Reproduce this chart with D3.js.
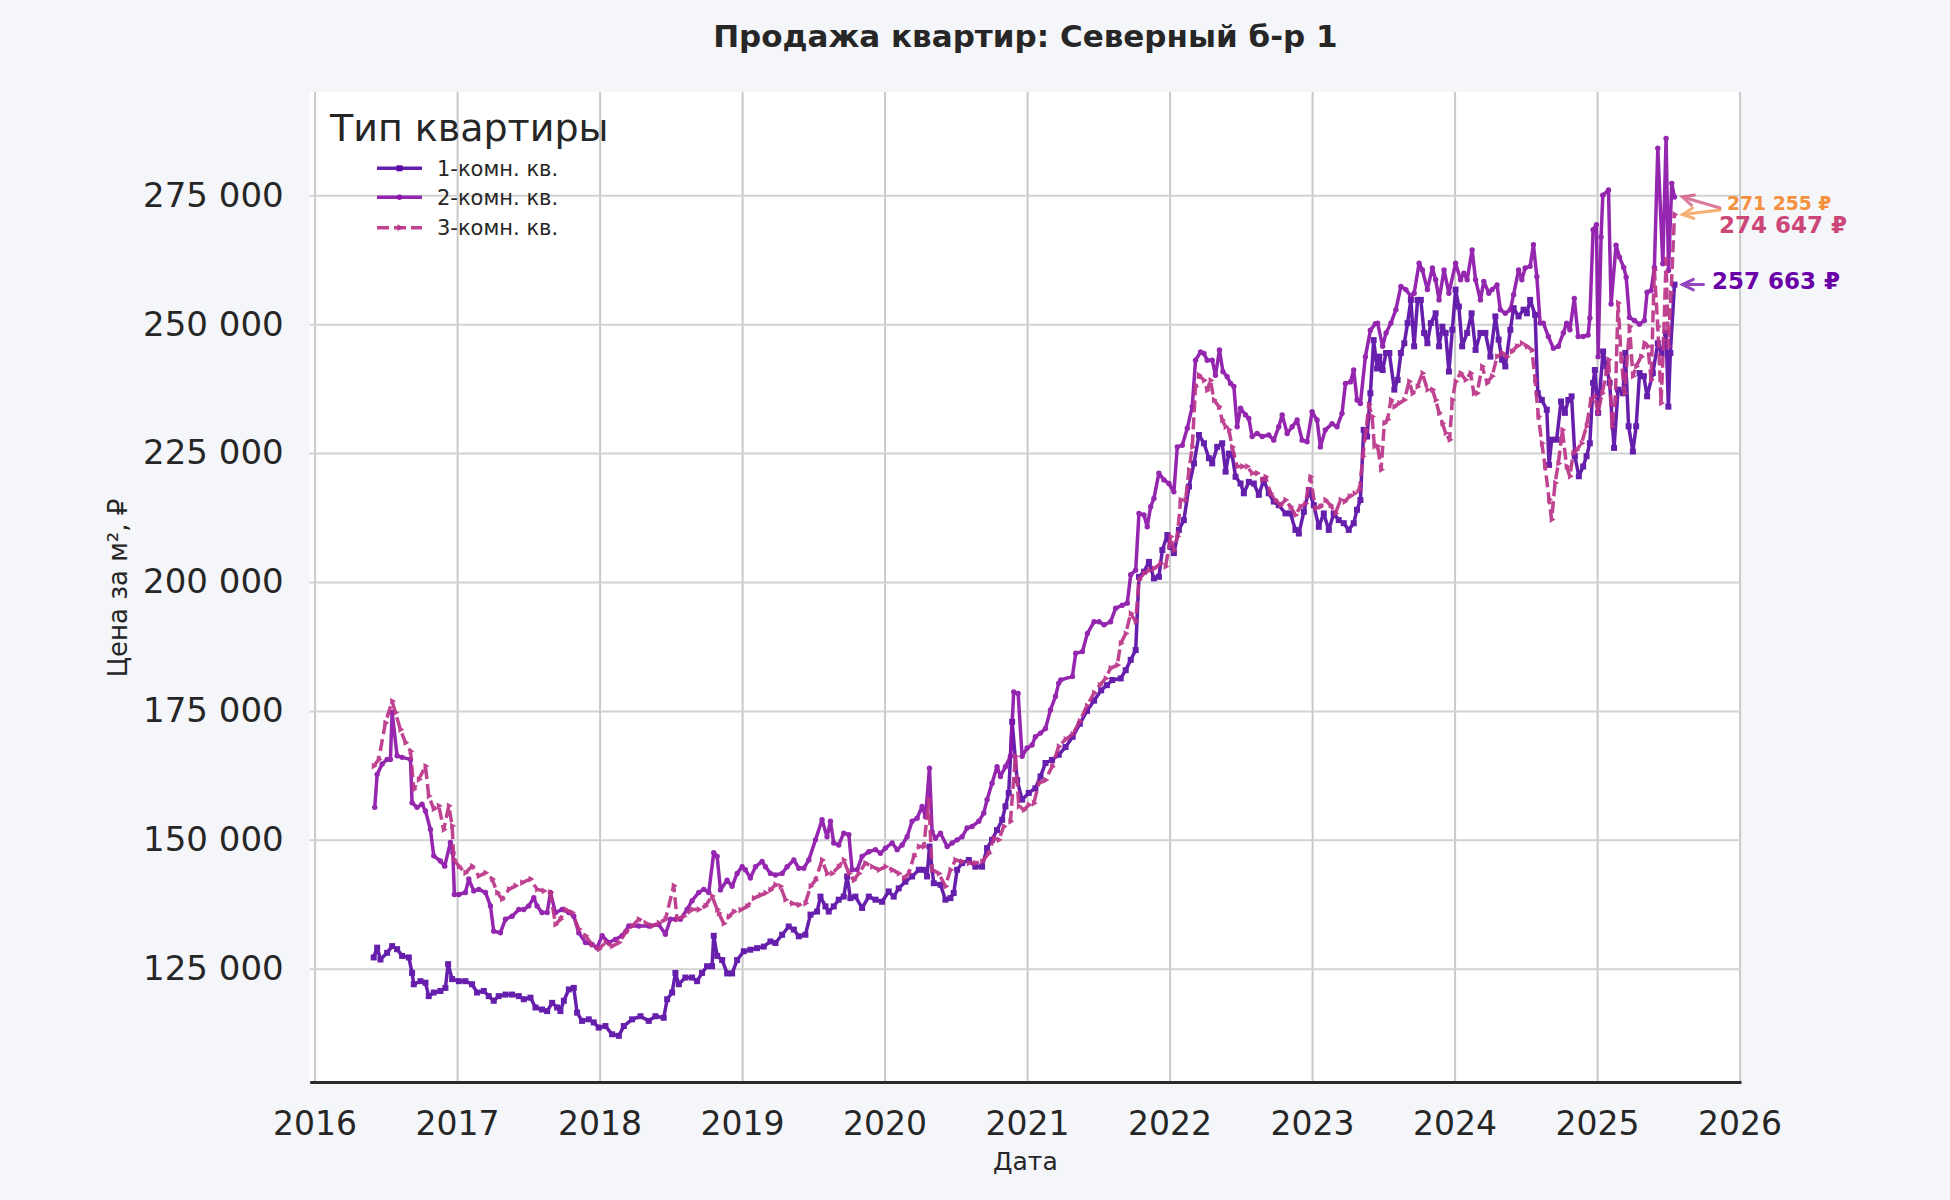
<!DOCTYPE html>
<html><head><meta charset="utf-8">
<script src="https://cdn.jsdelivr.net/npm/d3@7"></script>
<style>
body{margin:0;background:#f5f6fa;}
svg text{font-family:"DejaVu Sans",sans-serif;}
</style>
</head><body>
<svg id="chart" width="1950" height="1200"></svg>
<script>
// ---------------- DATA ----------------
const chartTitle = "Продажа квартир: Северный б-р 1";
const legendTitle = "Тип квартиры";
const seriesNames = ["1-комн. кв.", "2-комн. кв.", "3-комн. кв."];
const xLabel = "Дата";
const yLabel = "Цена за м², ₽";
const xTicks = [2016, 2017, 2018, 2019, 2020, 2021, 2022, 2023, 2024, 2025, 2026];
const yTicks = [125000, 150000, 175000, 200000, 225000, 250000, 275000];
// [decimal year, price in thousand ₽ per m²]
const room1 = [
[2016.415,127.2],[2016.439,129.1],[2016.462,126.8],[2016.509,128.1],[2016.544,129.4],[2016.579,128.8],[2016.614,127.5],[2016.661,127.2],[2016.684,124.2],[2016.696,122.0],[2016.743,122.6],[2016.778,122.3],[2016.801,119.7],[2016.836,120.4],[2016.883,120.7],[2016.918,121.3],[2016.937,125.9],[2016.965,123.0],[2017.012,122.6],[2017.058,122.6],[2017.105,122.0],[2017.140,120.4],[2017.187,120.7],[2017.222,119.7],[2017.257,118.8],[2017.292,119.7],[2017.339,120.0],[2017.386,120.0],[2017.433,119.7],[2017.468,119.1],[2017.515,119.4],[2017.550,117.5],[2017.596,117.1],[2017.632,116.8],[2017.667,118.4],[2017.702,117.5],[2017.725,116.8],[2017.749,118.8],[2017.784,121.0],[2017.819,121.3],[2017.842,116.5],[2017.877,114.9],[2017.924,115.2],[2017.959,114.6],[2017.994,113.6],[2018.041,113.9],[2018.088,112.3],[2018.135,112.0],[2018.170,113.9],[2018.228,115.2],[2018.287,115.8],[2018.345,114.9],[2018.392,115.8],[2018.450,115.5],[2018.474,119.1],[2018.509,120.4],[2018.532,124.2],[2018.556,122.0],[2018.602,123.3],[2018.649,123.3],[2018.684,122.6],[2018.719,124.2],[2018.754,125.5],[2018.789,125.5],[2018.801,131.4],[2018.825,127.5],
[2018.860,126.7],[2018.895,124.1],[2018.930,124.1],[2018.965,126.7],[2019.012,128.4],[2019.058,128.7],[2019.105,129.0],[2019.152,129.3],[2019.199,130.3],[2019.234,130.0],[2019.281,131.6],[2019.327,133.2],[2019.363,132.6],[2019.398,131.3],[2019.444,131.6],[2019.480,135.5],[2019.526,136.1],[2019.550,139.0],[2019.585,137.1],[2019.608,136.1],[2019.643,137.1],[2019.678,138.4],[2019.713,139.0],[2019.737,142.9],[2019.760,138.7],[2019.795,139.0],[2019.842,136.8],[2019.889,139.0],[2019.936,138.4],[2019.982,138.0],[2020.029,140.0],[2020.064,139.0],[2020.099,140.6],[2020.146,141.9],[2020.193,142.9],[2020.240,144.2],[2020.275,144.2],[2020.298,142.9],[2020.315,148.7],[2020.345,141.6],[2020.392,141.3],[2020.427,138.4],[2020.462,138.7],[2020.485,139.7],[2020.509,144.2],[2020.544,145.5],[2020.591,146.1],[2020.637,144.8],[2020.684,144.8],[2020.719,148.4],[2020.754,150.0],[2020.789,151.9],[2020.825,153.9],[2020.848,156.5],[2020.871,159.1],[2020.895,172.9],[2020.930,161.6],[2020.965,157.8],[2021.012,159.1],[2021.058,160.0],[2021.094,162.3],[2021.129,164.9],[2021.175,165.5],[2021.222,166.5],
[2021.270,168.0],[2021.320,170.0],[2021.370,172.5],[2021.420,175.0],[2021.470,177.0],[2021.520,179.0],[2021.560,180.0],
[2021.598,181.0],[2021.657,181.3],[2021.692,182.9],[2021.727,184.9],[2021.762,186.8],[2021.785,201.0],[2021.820,202.0],[2021.855,203.9],[2021.890,200.7],[2021.925,201.0],[2021.949,206.2],[2021.984,209.1],[2022.007,206.8],[2022.030,205.6],[2022.065,210.1],[2022.100,212.0],[2022.136,218.5],[2022.171,223.0],[2022.206,228.5],[2022.241,226.9],[2022.276,224.0],[2022.299,223.0],[2022.334,226.2],[2022.369,226.9],[2022.393,221.4],[2022.416,224.9],[2022.439,224.6],[2022.463,220.4],[2022.498,219.1],[2022.521,217.2],[2022.556,219.4],[2022.591,219.1],[2022.626,216.9],[2022.661,219.8],[2022.696,217.2],[2022.731,215.6],[2022.766,214.9],[2022.813,213.3],[2022.848,213.3],[2022.883,210.1],[2022.907,209.4],[2022.942,213.6],[2022.977,217.8],[2023.012,214.9],[2023.047,210.7],[2023.082,213.3],[2023.117,210.1],[2023.152,213.3],[2023.187,212.0],[2023.222,211.4],[2023.257,210.1],[2023.292,211.4],[2023.315,214.0],[2023.339,215.9],[2023.362,229.5],[2023.386,228.2],[2023.409,236.6],[2023.432,246.9],[2023.456,241.4],
[2023.472,243.7],[2023.495,241.1],[2023.519,244.4],[2023.542,244.4],[2023.577,237.3],[2023.600,239.2],[2023.623,244.4],[2023.647,246.3],[2023.670,250.2],[2023.693,254.7],[2023.716,245.7],[2023.740,254.7],[2023.763,254.7],[2023.786,248.3],[2023.809,246.3],[2023.833,250.2],[2023.867,252.1],[2023.891,245.7],[2023.914,249.5],[2023.937,248.3],[2023.960,240.8],[2023.984,248.9],[2024.007,256.7],[2024.030,253.4],[2024.053,245.7],[2024.088,248.3],[2024.119,252.1],[2024.147,245.0],[2024.181,248.3],[2024.216,248.3],[2024.251,243.7],[2024.286,251.5],[2024.309,247.0],[2024.333,243.1],[2024.356,241.8],[2024.391,248.9],[2024.414,253.1],[2024.449,251.5],[2024.484,252.8],[2024.507,252.1],[2024.530,254.7],[2024.565,251.8],[2024.584,236.6],[2024.612,235.3],[2024.647,233.4],[2024.663,222.7],[2024.681,227.6],[2024.716,227.6],[2024.747,235.0],[2024.774,232.8],[2024.798,235.3],[2024.821,236.0],[2024.844,224.4],[2024.872,220.5],[2024.902,222.4],[2024.926,224.4],[2024.949,226.9],[2024.972,238.6],[2024.984,241.1],[2025.007,232.8],[2025.042,244.7],[2025.065,241.8],[2025.088,238.6],[2025.119,226.0],[2025.147,237.3],[2025.181,236.6],[2025.198,244.4],[2025.221,230.2],[2025.251,225.3],[2025.274,230.2],[2025.298,240.5],[2025.328,239.9],[2025.351,236.0],[2025.391,240.5],[2025.426,246.3],[2025.453,244.4],[2025.484,248.3],[2025.500,234.0],[2025.514,244.4],[2025.543,257.663]
];
const room2 = [
[2016.422,156.3],[2016.439,162.7],[2016.474,164.7],[2016.509,165.6],[2016.532,165.6],[2016.544,174.7],[2016.579,166.3],[2016.614,166.0],[2016.673,165.6],[2016.684,157.2],[2016.719,156.3],[2016.754,156.9],[2016.778,155.6],[2016.813,152.0],[2016.836,146.9],[2016.883,145.9],[2016.913,144.9],[2016.953,149.5],[2016.970,147.5],[2016.981,139.4],[2017.012,139.4],[2017.058,139.8],[2017.082,142.4],[2017.117,140.1],[2017.152,140.4],[2017.199,139.8],[2017.234,137.2],[2017.257,132.3],[2017.304,132.0],[2017.339,134.6],[2017.386,135.2],[2017.433,136.5],[2017.468,136.5],[2017.503,137.2],[2017.538,138.8],[2017.561,137.2],[2017.596,135.9],[2017.632,135.9],[2017.655,139.8],[2017.690,135.9],[2017.737,136.5],[2017.784,135.9],[2017.819,135.2],[2017.854,132.0],[2017.901,130.1],[2017.947,129.7],[2017.982,129.1],[2018.018,131.4],[2018.064,130.1],[2018.111,130.7],[2018.158,131.4],[2018.205,133.3],[2018.275,133.3],[2018.345,133.3],[2018.415,133.6],[2018.462,131.7],[2018.497,134.6],[2018.532,134.6],[2018.567,134.6],[2018.614,136.5],[2018.649,138.2],[2018.696,139.8],[2018.731,140.4],[2018.766,139.8],[2018.801,147.5],
[2018.825,146.8],[2018.848,140.3],[2018.895,142.2],[2018.930,141.0],[2018.965,143.5],[2019.000,144.8],[2019.023,144.2],[2019.058,142.6],[2019.094,144.8],[2019.140,145.8],[2019.164,144.8],[2019.199,143.5],[2019.234,143.2],[2019.281,143.5],[2019.316,144.8],[2019.363,146.1],[2019.398,144.5],[2019.433,144.5],[2019.468,146.1],[2019.515,150.0],[2019.561,153.9],[2019.596,150.6],[2019.620,153.6],[2019.643,149.4],[2019.678,149.0],[2019.713,151.3],[2019.749,151.0],[2019.772,144.2],[2019.807,144.2],[2019.842,146.8],[2019.889,147.7],[2019.936,148.1],[2019.971,147.4],[2020.006,148.4],[2020.053,149.4],[2020.088,148.1],[2020.123,149.0],[2020.158,150.6],[2020.193,153.6],[2020.228,154.2],[2020.263,156.5],[2020.287,154.5],[2020.315,163.9],[2020.333,151.6],[2020.357,150.3],[2020.392,151.3],[2020.439,148.7],[2020.474,149.4],[2020.509,150.0],[2020.544,150.6],[2020.579,152.3],[2020.614,152.6],[2020.661,153.6],[2020.696,155.2],[2020.719,157.8],[2020.754,161.0],[2020.789,164.2],[2020.813,162.3],[2020.848,164.2],[2020.883,166.2],[2020.906,178.7],[2020.937,178.4],[2020.965,166.2],[2021.000,167.8],[2021.035,168.4],[2021.058,170.0],[2021.094,170.7],[2021.129,171.6],[2021.164,175.2],[2021.199,177.8],[2021.222,180.4],
[2021.236,181.0],[2021.318,181.7],[2021.341,186.2],[2021.388,186.5],[2021.423,190.0],[2021.470,192.3],[2021.505,192.3],[2021.540,191.7],[2021.586,192.3],[2021.621,194.9],[2021.668,195.5],[2021.703,195.9],[2021.727,201.4],[2021.762,202.3],[2021.785,213.3],[2021.820,213.0],[2021.843,210.7],[2021.867,214.6],[2021.890,216.2],[2021.925,221.1],[2021.960,219.8],[2021.995,219.1],[2022.030,217.5],[2022.054,226.2],[2022.089,226.5],[2022.124,229.8],[2022.159,234.0],[2022.182,243.0],[2022.217,244.6],[2022.241,244.3],[2022.264,243.0],[2022.299,243.0],[2022.322,240.1],[2022.350,245.0],[2022.374,240.8],[2022.404,239.8],[2022.428,238.5],[2022.451,237.9],[2022.474,230.1],[2022.498,233.7],[2022.533,232.4],[2022.556,231.7],[2022.579,228.2],[2022.614,228.8],[2022.650,228.2],[2022.696,228.5],[2022.731,227.5],[2022.766,230.1],[2022.790,232.4],[2022.825,228.8],[2022.860,230.1],[2022.895,231.4],[2022.930,227.5],[2022.965,227.2],[2023.000,233.0],[2023.035,231.4],[2023.058,226.2],[2023.093,229.5],[2023.140,230.7],[2023.175,230.1],[2023.210,232.7],[2023.234,238.5],[2023.269,238.8],[2023.292,241.1],[2023.315,235.3],[2023.339,234.6],[2023.374,243.7],[2023.409,248.8],[2023.444,250.1],
[2023.460,250.2],[2023.495,245.7],[2023.519,248.3],[2023.553,250.2],[2023.588,252.8],[2023.623,257.3],[2023.658,256.7],[2023.693,255.4],[2023.716,256.0],[2023.751,261.8],[2023.774,260.5],[2023.809,256.7],[2023.844,260.9],[2023.867,258.6],[2023.891,254.7],[2023.926,260.5],[2023.960,256.0],[2024.007,261.8],[2024.042,258.6],[2024.065,259.9],[2024.088,258.6],[2024.123,264.4],[2024.147,258.6],[2024.181,254.7],[2024.205,258.3],[2024.240,256.0],[2024.263,256.7],[2024.298,257.6],[2024.321,252.8],[2024.356,252.1],[2024.391,252.8],[2024.414,255.7],[2024.449,260.5],[2024.472,258.6],[2024.495,260.9],[2024.530,261.2],[2024.553,265.4],[2024.577,259.2],[2024.600,250.2],[2024.623,250.2],[2024.658,247.6],[2024.693,245.3],[2024.728,245.7],[2024.763,248.3],[2024.786,250.2],[2024.809,248.9],[2024.840,255.0],[2024.867,247.6],[2024.902,247.6],[2024.937,247.9],[2024.949,251.2],[2024.972,268.3],[2024.995,269.3],[2025.007,243.7],
[2025.028,266.9],[2025.040,275.0],[2025.080,276.0],[2025.098,253.9],[2025.133,265.3],[2025.157,263.0],[2025.187,261.0],[2025.204,259.1],[2025.227,251.3],[2025.262,250.7],[2025.297,250.0],[2025.332,250.7],[2025.351,256.2],[2025.379,256.5],[2025.402,261.0],[2025.426,284.1],[2025.461,261.7],[2025.484,286.0],[2025.501,260.4],[2025.524,277.3],[2025.543,274.647]
];
const room3 = [
[2016.415,164.3],[2016.450,165.6],[2016.497,172.7],[2016.544,176.9],[2016.567,174.7],[2016.602,171.4],[2016.637,168.9],[2016.673,167.2],[2016.696,159.8],[2016.731,161.7],[2016.778,164.3],[2016.801,158.5],[2016.836,156.0],[2016.871,156.6],[2016.906,152.0],[2016.942,156.6],[2016.965,152.7],[2016.977,146.2],[2017.012,144.9],[2017.058,143.6],[2017.105,144.9],[2017.152,143.0],[2017.199,143.6],[2017.246,142.4],[2017.281,139.8],[2017.316,138.5],[2017.363,140.4],[2017.409,141.1],[2017.456,141.7],[2017.515,142.4],[2017.561,140.4],[2017.608,140.1],[2017.655,139.8],[2017.690,133.6],[2017.725,134.6],[2017.760,136.5],[2017.807,135.9],[2017.854,132.7],[2017.901,131.4],[2017.947,129.7],[2017.994,128.8],[2018.041,130.1],[2018.088,129.4],[2018.135,130.1],[2018.181,132.0],[2018.228,133.3],[2018.275,134.6],[2018.322,133.9],[2018.368,133.3],[2018.415,133.9],[2018.462,134.6],[2018.520,141.1],[2018.544,134.6],[2018.591,135.2],[2018.649,136.5],[2018.696,136.5],[2018.743,137.2],[2018.789,139.1],[2018.825,136.5],
[2018.836,135.8],[2018.871,133.8],[2018.906,135.1],[2018.942,136.1],[2018.988,136.4],[2019.035,137.1],[2019.082,138.7],[2019.129,139.3],[2019.164,139.7],[2019.199,140.3],[2019.234,141.3],[2019.269,141.0],[2019.304,138.4],[2019.351,137.7],[2019.398,137.4],[2019.444,137.7],[2019.480,141.0],[2019.515,142.2],[2019.561,146.1],[2019.596,143.5],[2019.632,143.5],[2019.678,144.8],[2019.713,146.1],[2019.749,143.5],[2019.784,142.2],[2019.819,143.5],[2019.865,145.5],[2019.912,144.8],[2019.959,144.2],[2020.006,144.8],[2020.053,144.2],[2020.099,143.5],[2020.135,142.6],[2020.170,143.5],[2020.205,146.8],[2020.240,148.7],[2020.275,148.7],[2020.310,157.8],[2020.333,144.2],[2020.380,143.5],[2020.427,141.0],[2020.462,144.2],[2020.497,146.1],[2020.544,145.8],[2020.591,145.5],[2020.637,145.5],[2020.684,145.8],[2020.731,147.4],[2020.766,150.3],[2020.801,150.0],[2020.836,152.6],[2020.883,153.6],[2020.918,166.2],[2020.942,156.5],[2020.977,155.8],[2021.012,156.8],[2021.047,157.1],[2021.082,161.0],[2021.129,161.6],[2021.175,164.2],[2021.222,168.1],
[2021.270,169.5],[2021.320,170.5],[2021.370,173.0],[2021.420,176.0],[2021.470,178.5],[2021.510,180.0],
[2021.551,181.3],[2021.586,183.3],[2021.633,183.9],[2021.657,188.1],[2021.692,190.0],[2021.727,193.9],[2021.762,192.3],[2021.785,200.4],[2021.820,201.7],[2021.855,202.3],[2021.890,202.6],[2021.937,203.6],[2021.972,203.0],[2022.007,208.8],[2022.030,206.2],[2022.054,208.8],[2022.077,215.9],[2022.112,215.9],[2022.136,221.7],[2022.159,226.2],[2022.182,237.9],[2022.206,240.1],[2022.241,239.1],[2022.264,237.2],[2022.287,239.1],[2022.311,235.3],[2022.346,234.0],[2022.369,231.4],[2022.393,230.1],[2022.416,229.5],[2022.439,226.2],[2022.474,222.4],[2022.509,222.4],[2022.544,222.4],[2022.579,221.1],[2022.614,221.1],[2022.650,219.8],[2022.673,220.4],[2022.708,217.2],[2022.743,215.9],[2022.778,214.9],[2022.813,215.9],[2022.848,214.6],[2022.883,213.0],[2022.918,214.6],[2022.953,215.2],[2022.988,220.4],[2023.023,214.3],[2023.058,214.6],[2023.093,215.9],[2023.129,214.9],[2023.164,213.3],[2023.199,215.9],
[2023.228,215.6],[2023.263,216.6],[2023.298,217.2],[2023.333,217.9],[2023.356,224.4],[2023.379,229.5],[2023.398,234.4],[2023.421,232.1],[2023.437,226.3],[2023.460,226.3],[2023.484,221.8],[2023.507,230.8],[2023.530,231.5],[2023.553,235.3],[2023.577,234.0],[2023.612,234.7],[2023.647,235.3],[2023.681,238.9],[2023.705,236.6],[2023.740,237.9],[2023.774,240.5],[2023.809,237.3],[2023.844,237.3],[2023.867,235.3],[2023.891,232.8],[2023.914,230.8],[2023.937,228.9],[2023.965,227.6],[2023.984,235.3],[2024.007,238.9],[2024.042,240.5],[2024.077,239.2],[2024.112,240.5],[2024.135,236.6],[2024.158,236.6],[2024.193,241.8],[2024.228,238.6],[2024.263,239.9],[2024.298,243.7],[2024.333,244.4],[2024.367,243.7],[2024.402,244.7],[2024.437,245.7],[2024.472,246.3],[2024.507,245.7],[2024.542,245.0],[2024.565,239.2],[2024.588,232.1],[2024.612,226.9],[2024.635,222.4],[2024.663,216.0],[2024.681,212.1],[2024.705,219.2],[2024.728,223.0],[2024.756,229.5],[2024.786,222.4],[2024.809,220.5],[2024.833,225.0],[2024.856,225.6],[2024.891,226.9],[2024.926,230.2],[2024.956,235.3],[2024.984,236.0],[2025.007,232.8],[2025.035,236.6],[2025.065,240.5],[2025.081,243.1],[2025.105,230.2],[2025.128,235.3],[2025.147,254.1],[2025.170,243.1],[2025.193,236.6],[2025.228,249.5],[2025.251,239.9],[2025.274,241.8],[2025.309,243.7],[2025.333,246.3],[2025.356,245.7],[2025.379,239.2],[2025.402,260.5],[2025.426,249.5],[2025.449,234.7],[2025.467,247.0],[2025.484,262.5],[2025.500,245.7],[2025.519,256.0],[2025.543,271.255]
];
const lastValues = [257663, 274647, 271255];

// ---------------- STYLE / LAYOUT ----------------
const W = 1950, H = 1200;
const M = {left: 309.7, right: 1741, top: 92, bottom: 1082};
const lineColors = ["#5a0ca6", "#8c14a9", "#bb3489"];
const annColors = ["#6a00a8", "#cc4778", "#f3913f"];
const svg = d3.select("#chart");
svg.append("rect").attr("width", W).attr("height", H).attr("fill", "#f5f6fa");
svg.append("rect").attr("x", M.left).attr("y", M.top)
  .attr("width", M.right - M.left).attr("height", M.bottom - M.top).attr("fill", "#ffffff");

const x = d3.scaleLinear().domain([2015.9656, 2026.0098]).range([M.left, M.right]);
const y = d3.scaleLinear().domain([103050, 295011]).range([M.bottom, M.top]);

const loc = d3.formatLocale({decimal: ",", thousands: " ", grouping: [3], currency: ["", " ₽"]});
const fmt = loc.format(",d");

// grid
const gx = svg.append("g").attr("transform", `translate(0,${M.bottom})`)
  .call(d3.axisBottom(x).tickValues(xTicks).tickSize(-(M.bottom - M.top)).tickFormat(""));
gx.select(".domain").remove();
gx.selectAll("line").attr("stroke", "#c9c9c9").attr("stroke-width", 2);
const gy = svg.append("g").attr("transform", `translate(${M.left},0)`)
  .call(d3.axisLeft(y).tickValues(yTicks).tickSize(-(M.right - M.left)).tickFormat(""));
gy.select(".domain").remove();
gy.selectAll("line").attr("stroke", "#d2d2d2").attr("stroke-width", 2);

// axes labels
const ax = svg.append("g").attr("transform", `translate(0,${M.bottom})`)
  .call(d3.axisBottom(x).tickValues(xTicks).tickSize(0).tickPadding(30).tickFormat(d3.format("d")));
ax.select(".domain").attr("stroke", "#2b2b2b").attr("stroke-width", 3);
ax.selectAll("text").attr("font-size", 33).attr("fill", "#262626").attr("font-family", "DejaVu Sans");
const ay = svg.append("g").attr("transform", `translate(${M.left},0)`)
  .call(d3.axisLeft(y).tickValues(yTicks).tickSize(0).tickPadding(26).tickFormat(fmt));
ay.select(".domain").remove();
ay.selectAll("text").attr("font-size", 34).attr("fill", "#262626").attr("font-family", "DejaVu Sans");

svg.append("text").attr("x", (M.left + M.right) / 2).attr("y", 47).attr("text-anchor", "middle")
  .attr("font-size", 31).attr("font-weight", "bold").attr("fill", "#262626").text(chartTitle);
svg.append("text").attr("x", (M.left + M.right) / 2).attr("y", 1170).attr("text-anchor", "middle")
  .attr("font-size", 25).attr("fill", "#262626").text(xLabel);
svg.append("text").attr("transform", "translate(127,588) rotate(-90)").attr("text-anchor", "middle")
  .attr("font-size", 26).attr("fill", "#262626").text(yLabel);

// series
const allSeries = [room1, room2, room3];
const line = d3.line().x(d => x(d[0])).y(d => y(d[1] * 1000));
const plot = svg.append("g");
const markerFns = [
  (g, px, py, c) => g.append("rect").attr("x", px - 3).attr("y", py - 3).attr("width", 6).attr("height", 6).attr("fill", c),
  (g, px, py, c) => g.append("circle").attr("cx", px).attr("cy", py).attr("r", 2.7).attr("fill", c),
  (g, px, py, c) => g.append("path").attr("d", d3.symbol(d3.symbolTriangle, 20)()).attr("transform", `translate(${px},${py}) rotate(90)`).attr("fill", c)
];
allSeries.forEach((s, i) => {
  const g = plot.append("g").attr("opacity", 0.92);
  g.append("path").datum(s).attr("d", line).attr("fill", "none")
    .attr("stroke", lineColors[i]).attr("stroke-width", 3.5)
    .attr("stroke-linejoin", "round")
    .attr("stroke-dasharray", i === 2 ? "12,5" : null);
  s.forEach(d => markerFns[i](g, x(d[0]), y(d[1] * 1000), lineColors[i]));
});

// legend
const lg = svg.append("g");
lg.append("text").attr("x", 330).attr("y", 141).attr("font-size", 38).attr("fill", "#262626").text(legendTitle);
const legY = [168.3, 197.3, 227.7];
seriesNames.forEach((n, i) => {
  lg.append("line").attr("x1", 377).attr("x2", 422).attr("y1", legY[i]).attr("y2", legY[i])
    .attr("stroke", lineColors[i]).attr("stroke-width", 3.5).attr("opacity", 0.92)
    .attr("stroke-dasharray", i === 2 ? "12,5" : null);
  markerFns[i](lg, 399.5, legY[i], lineColors[i]);
  lg.append("text").attr("x", 437).attr("y", legY[i]).attr("dy", "0.36em").attr("font-size", 21)
    .attr("fill", "#262626").text(n);
});

// end-value annotations
const annCfg = [
  {tail: [21, 0], text: [29.5, 4.5], size: 23},
  {tail: [37.5, 11], text: [36.5, 35.5], size: 23},
  {tail: [37.5, -4.5], text: [44.5, -4.5], size: 18.75}
];
const annFmt = loc.format(",d");
allSeries.forEach((s, i) => {
  const last = s[s.length - 1];
  const hx = x(last[0]) + 8, hy = y(lastValues[i]);
  const c = annCfg[i];
  const tx = hx + c.tail[0], ty = hy + c.tail[1];
  const ang = Math.atan2(ty - hy, tx - hx);
  const L = 12, a = 0.45;
  const g = svg.append("g").attr("stroke", annColors[i]).attr("stroke-width", 3).attr("fill", "none")
    .attr("opacity", 0.72).attr("stroke-linecap", "round");
  g.append("line").attr("x1", tx).attr("y1", ty).attr("x2", hx).attr("y2", hy);
  g.append("path").attr("d",
    `M${hx + L * Math.cos(ang + a)},${hy + L * Math.sin(ang + a)}L${hx},${hy}L${hx + L * Math.cos(ang - a)},${hy + L * Math.sin(ang - a)}`);
  svg.append("text").attr("x", hx + c.text[0]).attr("y", hy + c.text[1])
    .attr("font-size", c.size).attr("font-weight", "bold").attr("fill", annColors[i])
    .text(annFmt(lastValues[i]) + " ₽");
});
</script>
</body></html>
